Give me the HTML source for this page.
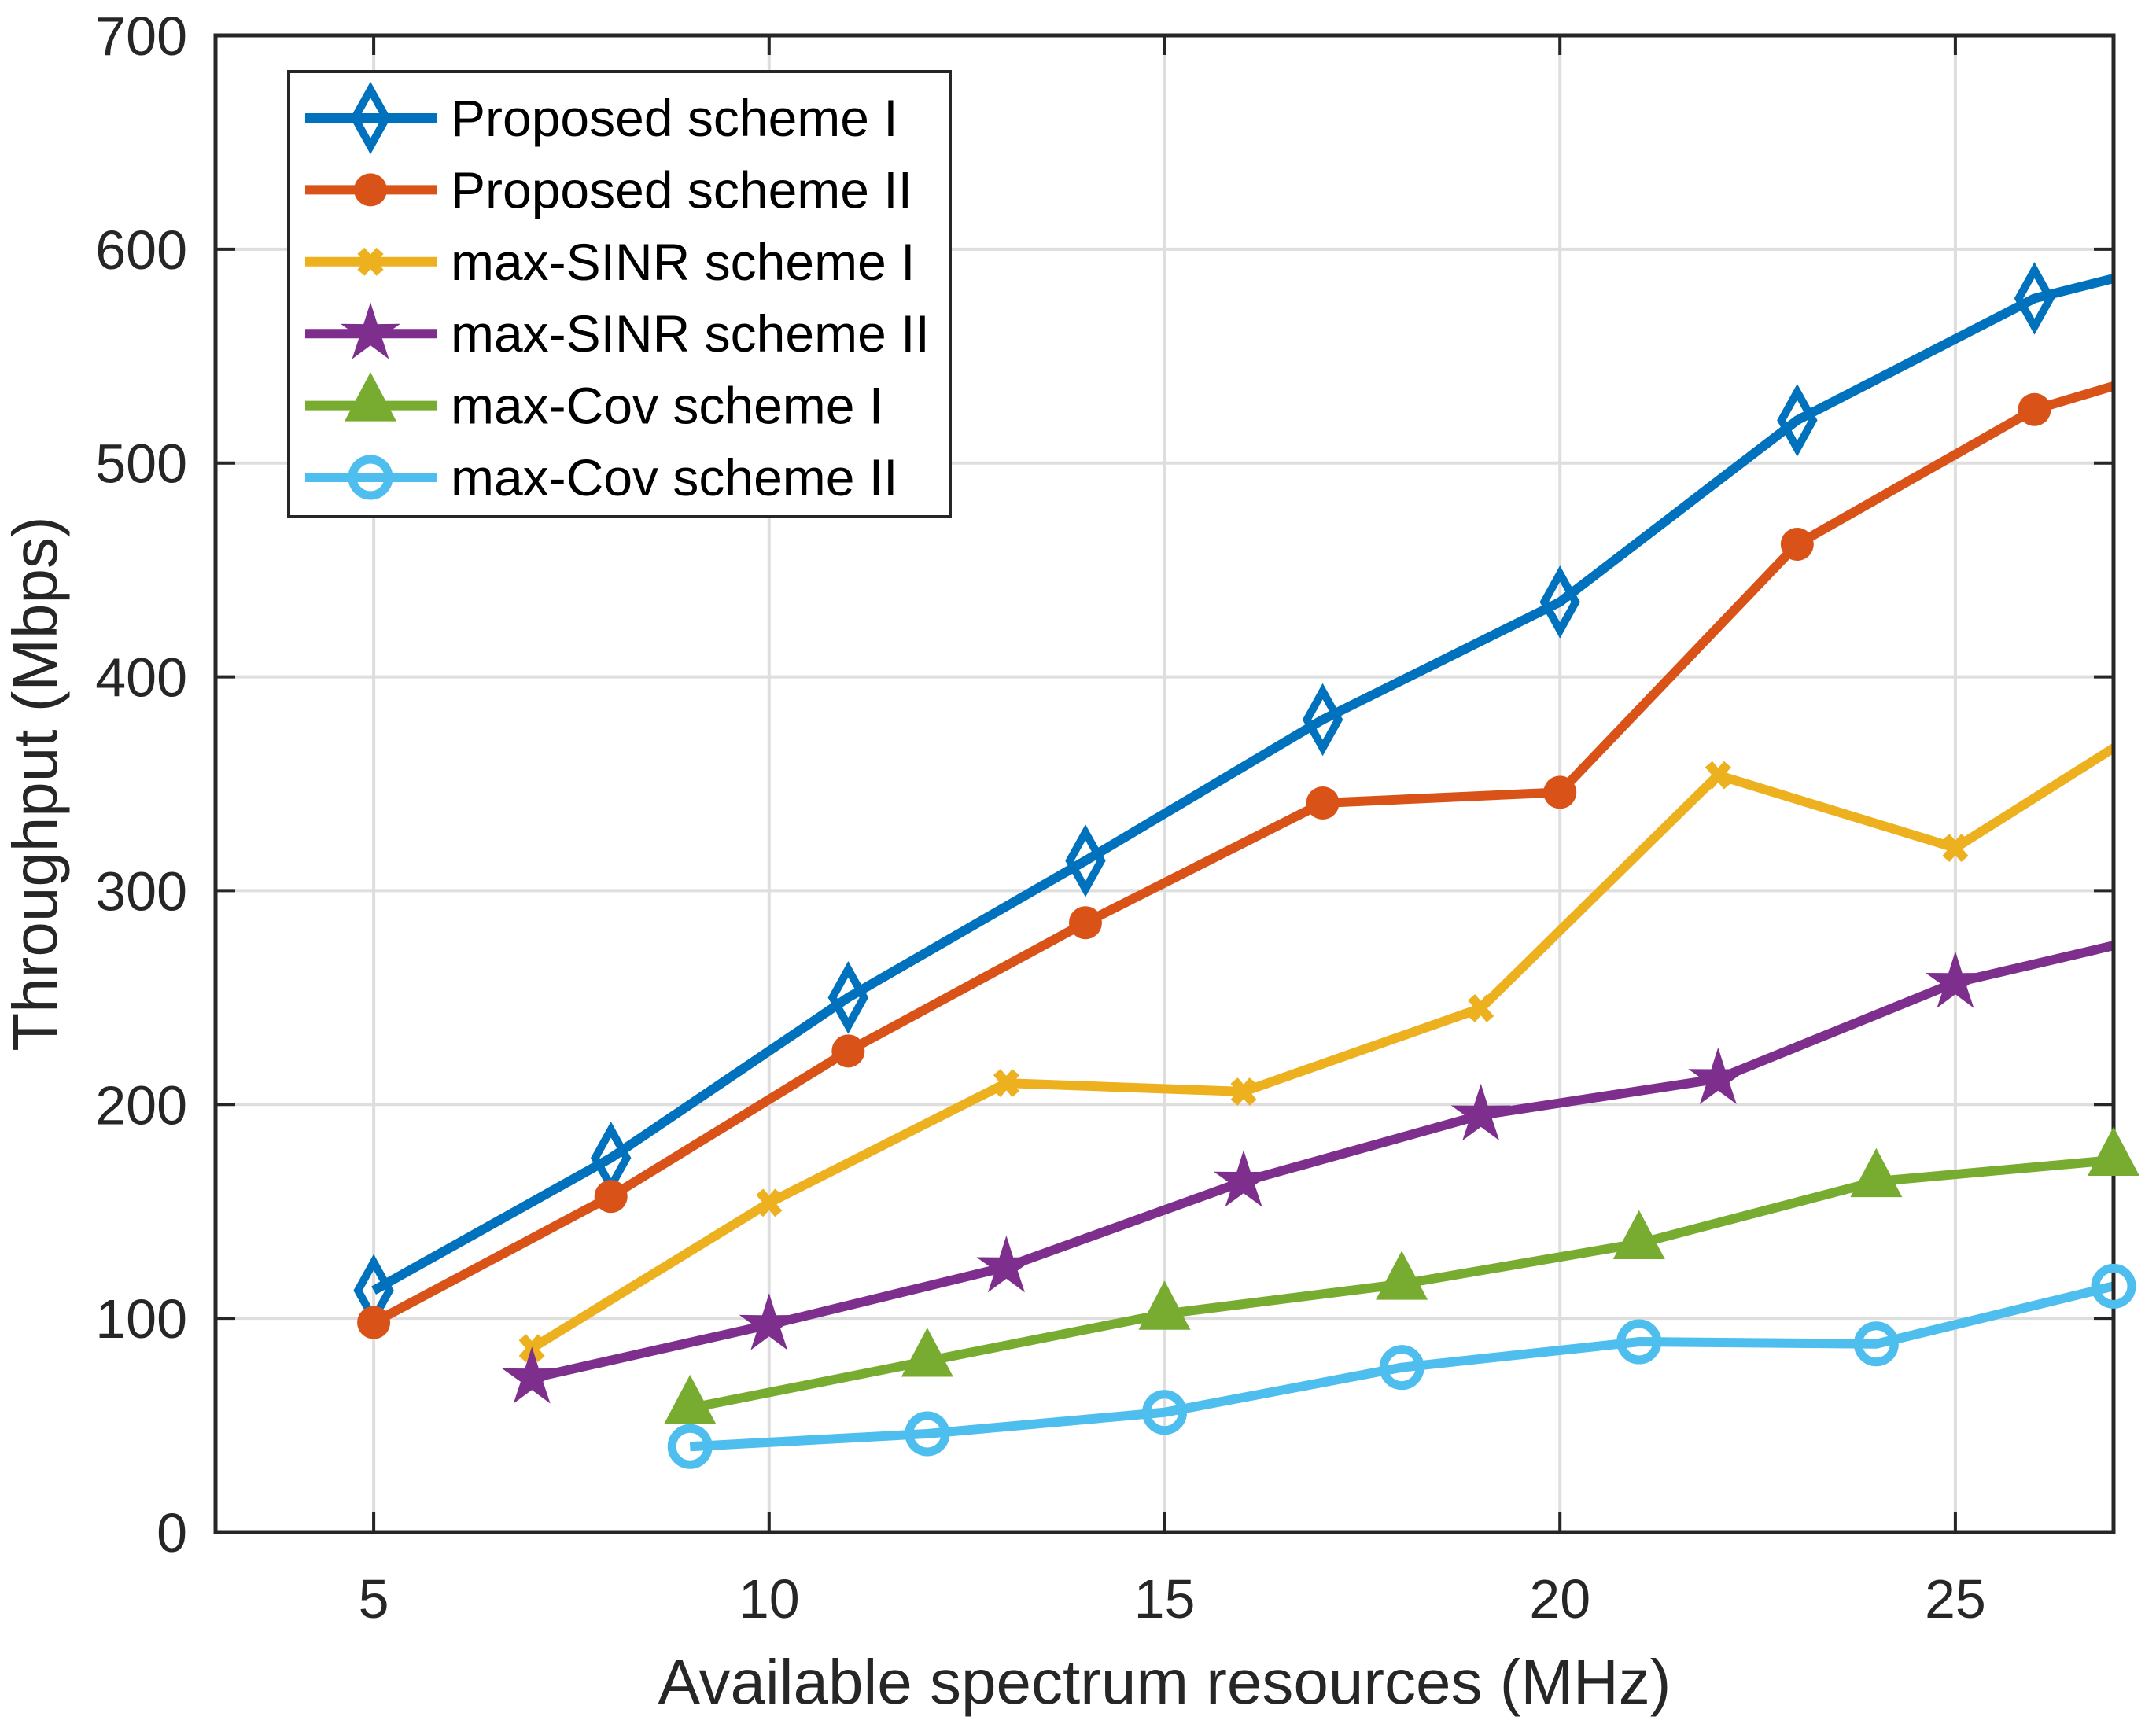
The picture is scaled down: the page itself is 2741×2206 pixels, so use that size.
<!DOCTYPE html>
<html><head><meta charset="utf-8"><style>
html,body{margin:0;padding:0;background:#fff;}
svg{display:block;font-family:"Liberation Sans",Arial,sans-serif;}
</style></head><body>
<svg id="chart" width="2741" height="2206" viewBox="0 0 2741 2206" xmlns="http://www.w3.org/2000/svg">
<defs><clipPath id="pc"><rect x="274" y="30" width="2413" height="1940"/></clipPath></defs>
<g id="grid"></g>
<g id="series" clip-path="url(#pc)"></g>
<g id="axes"></g>
<g id="markers"></g>
<g id="legend"></g>
</svg>
<script>
const xTicks=[5,10,15,20,25];
const yTicks=[0,100,200,300,400,500,600,700];
const seriesNames=["Proposed scheme I","Proposed scheme II","max-SINR scheme I","max-SINR scheme II","max-Cov scheme I","max-Cov scheme II"];
const xA=[5,8,11,14,17,20,23,26,29];
const yProp1=[113,175,250,314,380,435,520,577,605];
const yProp2=[98,157,225,285,341,346,462,525,558];
const xB=[7,10,13,16,19,22,25,28];
const ySinr1=[86,154,210,206,245,354,320,390];
const ySinr2=[72,97,124,164,195,212,257,283];
const xC=[9,12,15,18,21,24,27];
const yCov1=[58,80,102,116,135,164,174];
const yCov2=[40,46,56,77,89,88,115];

const L=274,R=2687,T=45,B=1948,X0=3,X1=27,Y0=0,Y1=700;
const sx=v=>L+(v-X0)/(X1-X0)*(R-L);
const sy=v=>B-(v-Y0)/(Y1-Y0)*(B-T);
const NS="http://www.w3.org/2000/svg";
function mk(tag,attrs,parent){const e=document.createElementNS(NS,tag);for(const k in attrs)e.setAttribute(k,attrs[k]);parent.appendChild(e);return e;}
const grid=document.getElementById('grid'),axes=document.getElementById('axes'),ser=document.getElementById('series'),leg=document.getElementById('legend'),mkl=document.getElementById('markers');

xTicks.forEach(t=>{
  const g=mk('line',{x1:sx(t),x2:sx(t),y1:T,y2:B,stroke:'#dedede','stroke-width':4},grid);
  
  
  const tk=mk('line',{x1:sx(t),x2:sx(t),y1:B,y2:B-25,stroke:'#262626','stroke-width':4},axes);
  
  
  const tk2=mk('line',{x1:sx(t),x2:sx(t),y1:T,y2:T+25,stroke:'#262626','stroke-width':4},axes);
  
  
  const tx=mk('text',{x:sx(t),y:2057,'text-anchor':'middle','font-size':70,fill:'#262626'},axes);
  tx.textContent=t;
  
  
});
yTicks.forEach(t=>{
  if(t>0&&t<700){
    const g=mk('line',{x1:L,x2:R,y1:sy(t),y2:sy(t),stroke:'#dedede','stroke-width':4},grid);
    
    
  }
  const tk=mk('line',{x1:L,x2:L+25,y1:sy(t),y2:sy(t),stroke:'#262626','stroke-width':4},axes);
  
  
  const tk2=mk('line',{x1:R,x2:R-25,y1:sy(t),y2:sy(t),stroke:'#262626','stroke-width':4},axes);
  
  
  const tx=mk('text',{x:238,y:sy(t)+25,'text-anchor':'end','font-size':70,fill:'#262626'},axes);
  tx.textContent=t;
  
  
});
const box=mk('rect',{x:L,y:T,width:R-L,height:B-T,fill:'none',stroke:'#262626','stroke-width':5},axes);


const xl=mk('text',{x:(L+R)/2,y:2166,'text-anchor':'middle','font-size':80,fill:'#262626'},axes);
xl.textContent='Available spectrum resources (MHz)';


const yl=mk('text',{x:0,y:0,'text-anchor':'middle','font-size':80,fill:'#262626',transform:`translate(72,${(T+B)/2}) rotate(-90)`},axes);
yl.textContent='Throughput (Mbps)';



const colors=['#0072BD','#D95319','#EDB120','#7E2F8E','#77AC30','#4DBEEE'];
function marker(type,x,y,c,parent){
  let e;
  if(type==='diamond') e=mk('polygon',{points:`${x},${y-36} ${x+20},${y} ${x},${y+36} ${x-20},${y}`,fill:'none',stroke:c,'stroke-width':10},parent);
  else if(type==='dot') e=mk('circle',{cx:x,cy:y,r:21,fill:c},parent);
  else if(type==='x'){e=mk('path',{d:`M${x-12},${y-14}L${x+12},${y+14}M${x-12},${y+14}L${x+12},${y-14}`,stroke:c,'stroke-width':12,fill:'none'},parent);}
  else if(type==='star'){let p=[];for(let i=0;i<10;i++){const r=i%2?15:40,a=-Math.PI/2+i*Math.PI/5;p.push((x+r*Math.cos(a)).toFixed(1)+','+(y+r*Math.sin(a)).toFixed(1));}e=mk('polygon',{points:p.join(' '),fill:c},parent);}
  else if(type==='tri') e=mk('polygon',{points:`${x},${y-36} ${x+28},${y+17} ${x-28},${y+17}`,fill:c,stroke:c,'stroke-width':6},parent);
  else e=mk('circle',{cx:x,cy:y,r:23,fill:'none',stroke:c,'stroke-width':11},parent);
  return e;
}
const types=['diamond','dot','x','star','tri','circle'];
const data=[[xA,yProp1],[xA,yProp2],[xB,ySinr1],[xB,ySinr2],[xC,yCov1],[xC,yCov2]];
data.forEach(([xs,ys],i)=>{
  const g=mk('g',{},ser);
  
  
  const pl=mk('polyline',{points:xs.map((x,j)=>sx(x)+','+sy(ys[j])).join(' '),fill:'none',stroke:colors[i],'stroke-width':12,'stroke-linejoin':'round'},g);
  
  
  const mg=mk('g',{},mkl);
  
  
  xs.forEach((x,j)=>{
    if(x>X1) return;
    const m=marker(types[i],sx(x),sy(ys[j]),colors[i],mg);
    
    
  });
});
const lb=mk('rect',{x:367,y:91,width:841,height:566,fill:'#fff',stroke:'#262626','stroke-width':4},leg);


seriesNames.forEach((n,i)=>{
  const y=150+i*91.4;
  const g=mk('g',{},leg);
  
  
  mk('line',{x1:388,x2:555,y1:y,y2:y,stroke:colors[i],'stroke-width':12},g);
  marker(types[i],471,y,colors[i],g);
  const t=mk('text',{x:573,y:y+23,'font-size':66,fill:'#000'},g);
  t.textContent=n;
});
</script>
</body></html>
